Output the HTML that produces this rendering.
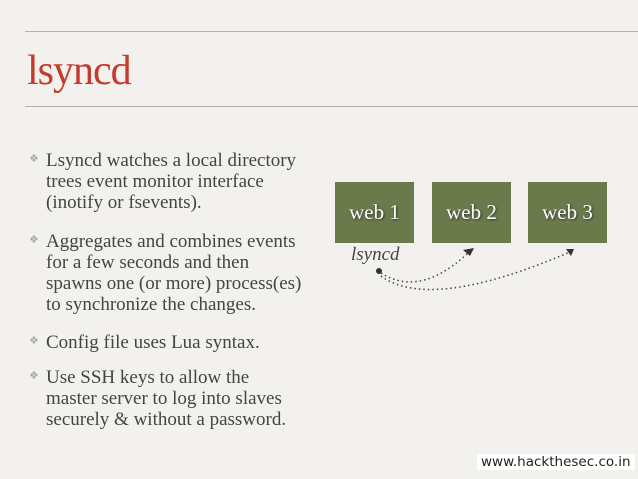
<!DOCTYPE html>
<html><head><style>
body{margin:0;width:638px;height:479px;overflow:hidden;background:#f3f1ed;position:relative;font-family:"Liberation Serif",serif;}
.hr{position:absolute;left:25px;right:0;height:1px;background:#b5b2ad;}
.t{position:absolute;left:27px;top:50px;font-size:42px;color:#c43a2c;line-height:1;letter-spacing:-1px;}
.l{position:absolute;left:46px;font-size:19px;color:#444;line-height:21px;white-space:nowrap;}
.b{position:absolute;left:29px;font-size:11px;color:#aaa;}
.box{position:absolute;top:182px;width:79px;height:61px;background:#6b7a4b;color:#fff;font-size:21px;text-align:center;line-height:60px;text-shadow:1px 1px 2px #333;}
.f{position:absolute;left:477px;top:454px;background:#fff;padding:0 4px;font-family:"DejaVu Sans",sans-serif;font-size:13.5px;color:#222;}
</style></head><body>
<div class="hr" style="top:31px"></div>
<div class="hr" style="top:106px"></div>
<div class="t">lsyncd</div>
<div class="b" style="top:152px">❖</div>
<div class="l" style="top:150px">Lsyncd watches a local directory<br>trees event monitor interface<br>(inotify or fsevents).</div>
<div class="b" style="top:233px">❖</div>
<div class="l" style="top:231px">Aggregates and combines events<br>for a few seconds and then<br>spawns one (or more) process(es)<br>to synchronize the changes.</div>
<div class="b" style="top:334px">❖</div>
<div class="l" style="top:332px">Config file uses Lua syntax.</div>
<div class="b" style="top:369px">❖</div>
<div class="l" style="top:367px">Use SSH keys to allow the<br>master server to log into slaves<br>securely &amp; without a password.</div>
<div class="box" style="left:335px">web 1</div>
<div class="box" style="left:432px">web 2</div>
<div class="box" style="left:528px">web 3</div>
<div style="position:absolute;left:351px;top:244px;font-style:italic;font-size:19px;color:#444">lsyncd</div>
<svg style="position:absolute;left:0;top:0" width="638" height="479">
<circle cx="379" cy="271" r="3" fill="#333"/>
<path d="M381 273 Q420 298 468 253" fill="none" stroke="#444" stroke-width="1.5" stroke-dasharray="1.5 3"/>
<path d="M381 276 Q430 312 570 252" fill="none" stroke="#444" stroke-width="1.5" stroke-dasharray="1.5 3"/>
<polygon points="474,248 463,250 470,256" fill="#333"/>
<polygon points="574,249 566,249 571,256" fill="#333"/>
</svg>
<div class="f">www.hackthesec.co.in</div>
</body></html>
